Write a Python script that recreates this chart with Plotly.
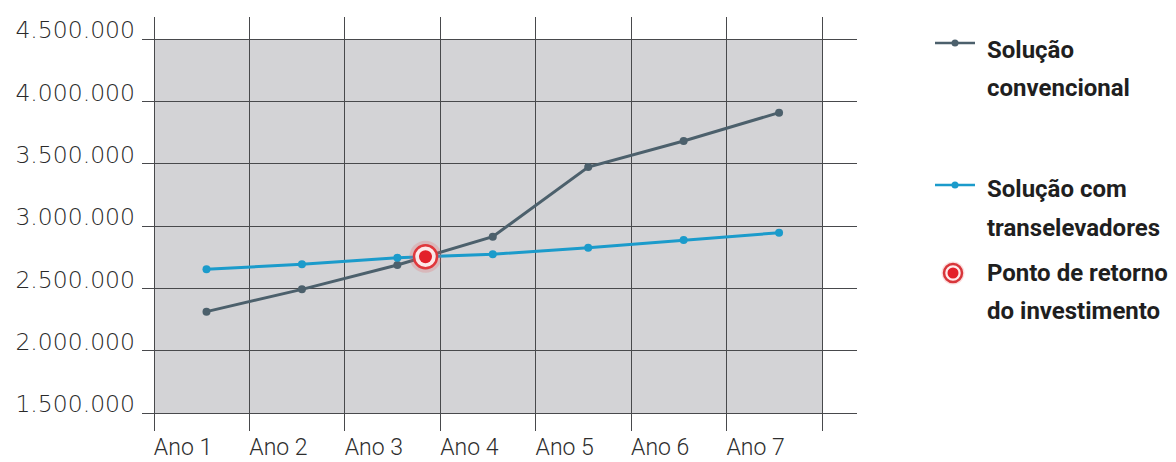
import plotly.graph_objects as go

# Annual cost comparison between the two storage solutions
anos = ["Ano 1", "Ano 2", "Ano 3", "Ano 4", "Ano 5", "Ano 6", "Ano 7"]
convencional = [2313000, 2492000, 2687000, 2914000, 3473000, 3682000, 3909000]
transelevadores = [2653000, 2693000, 2746000, 2773000, 2826000, 2888000, 2946000]
y_ticks = [1500000, 2000000, 2500000, 3000000, 3500000, 4000000, 4500000]
y_tick_labels = ["1.500.000", "2.000.000", "2.500.000", "3.000.000",
                 "3.500.000", "4.000.000", "4.500.000"]
legenda = [["Solução", "convencional"],
           ["Solução com", "transelevadores"],
           ["Ponto de retorno", "do investimento"]]

COR_CONV = "#4c606c"
COR_TRANS = "#1b9bcb"
COR_PONTO = "#e3202a"
COR_GRADE = "#48494c"
COR_FUNDO = "#d3d3d6"

x = list(range(1, len(anos) + 1))

# Break-even: first crossing of the two series, by linear interpolation
ponto_x, ponto_y = None, None
for i in range(len(x) - 1):
    d0 = convencional[i] - transelevadores[i]
    d1 = convencional[i + 1] - transelevadores[i + 1]
    if d0 < 0 <= d1:
        t = -d0 / (d1 - d0)
        ponto_x = x[i] + t
        ponto_y = transelevadores[i] + t * (transelevadores[i + 1] - transelevadores[i])
        break

# Page geometry (pixels)
W, H = 1176, 462
ML, MR, MT, MB = 142, 319, 17, 31
grade_x = [v - 0.55 for v in x] + [x[-1] + 0.45]   # vertical grid between years
px_por_ano = 95.43
px_por_milhao = 124.67
x0_px = 154  # pixel of the first vertical grid line
x_range = [grade_x[0] - (x0_px - ML) / px_por_ano,
           grade_x[0] + (W - MR - x0_px) / px_por_ano]
y_top_px = 39  # pixel of the 4.500.000 line
y_range = [y_ticks[-1] - (H - MB - y_top_px) / px_por_milhao * 1e6,
           y_ticks[-1] + (y_top_px - MT) / px_por_milhao * 1e6]

plot_w = W - ML - MR
plot_h = H - MT - MB


def px(xp):
    return (xp - ML) / plot_w


def py(yp):
    return (H - MB - yp) / plot_h


fig = go.Figure()

fig.add_trace(go.Scatter(
    x=x, y=convencional, mode="lines+markers",
    line=dict(color=COR_CONV, width=3),
    marker=dict(color=COR_CONV, size=8),
    hoverinfo="skip", showlegend=False))

fig.add_trace(go.Scatter(
    x=x, y=transelevadores, mode="lines+markers",
    line=dict(color=COR_TRANS, width=3),
    marker=dict(color=COR_TRANS, size=8),
    hoverinfo="skip", showlegend=False))

# Break-even marker: soft halo, ring, solid centre
fig.add_trace(go.Scatter(
    x=[ponto_x], y=[ponto_y], mode="markers",
    marker=dict(size=32, color="rgba(235,90,90,0.22)", line=dict(width=0)),
    hoverinfo="skip", showlegend=False))
fig.add_trace(go.Scatter(
    x=[ponto_x], y=[ponto_y], mode="markers",
    marker=dict(size=23, color="rgba(255,235,235,0.95)",
                line=dict(color="#e0383c", width=2.5)),
    hoverinfo="skip", showlegend=False))
fig.add_trace(go.Scatter(
    x=[ponto_x], y=[ponto_y], mode="markers",
    marker=dict(size=13, color=COR_PONTO, line=dict(width=0)),
    hoverinfo="skip", showlegend=False))

# Grey plotting field
fig.add_shape(type="rect", xref="x", yref="y",
              x0=grade_x[0], x1=grade_x[-1], y0=y_ticks[0], y1=y_ticks[-1],
              fillcolor=COR_FUNDO, line=dict(width=0), layer="below")

# Legend, drawn by hand
leg_x0, leg_x1, leg_xm, txt_x = 935, 975, 955, 985
linhas_leg = [(43, 50, 88), (185, 189, 228), (273, 273, 311)]
cores_leg = [COR_CONV, COR_TRANS]
for k, (ym, y1, y2) in enumerate(linhas_leg):
    if k < 2:
        fig.add_shape(type="line", xref="paper", yref="paper",
                      x0=px(leg_x0), x1=px(leg_x1), y0=py(ym), y1=py(ym),
                      line=dict(color=cores_leg[k], width=2.5))
        r = 3.5
        fig.add_shape(type="circle", xref="paper", yref="paper",
                      x0=px(leg_xm - r), x1=px(leg_xm + r),
                      y0=py(ym + r), y1=py(ym - r),
                      fillcolor=cores_leg[k], line=dict(width=0))
    else:
        for r, fc, lc, lw in [(11.5, "rgba(235,90,90,0.2)", None, 0),
                              (9, "rgba(255,235,235,1)", "#d8363a", 2.5),
                              (5.5, COR_PONTO, None, 0)]:
            fig.add_shape(type="circle", xref="paper", yref="paper",
                          x0=px(leg_xm - 2 - r), x1=px(leg_xm - 2 + r),
                          y0=py(ym + r), y1=py(ym - r),
                          fillcolor=fc,
                          line=dict(color=lc or fc, width=lw))
    for texto, yc in zip(legenda[k], (y1, y2)):
        fig.add_annotation(xref="paper", yref="paper", x=px(txt_x), y=py(yc),
                           text=texto, showarrow=False,
                           xanchor="left", yanchor="middle",
                           font=dict(family="Roboto", size=24,
                                     color="#1f1f1f", weight="bold"))

fig.update_layout(
    width=W, height=H,
    margin=dict(l=ML, r=MR, t=MT, b=MB, pad=0, autoexpand=False),
    paper_bgcolor="white", plot_bgcolor="white",
    xaxis=dict(range=x_range, tickmode="array", tickvals=grade_x,
               ticktext=anos + [""], showgrid=True, gridcolor=COR_GRADE,
               gridwidth=1.3, zeroline=False, showline=False, ticks="",
               ticklabelshift=29, ticklabelstandoff=0, automargin=False,
               tickfont=dict(family="Roboto", size=23,
                             color="#2e2e2e", weight=300),
               fixedrange=True),
    yaxis=dict(range=y_range, tickmode="array", tickvals=y_ticks,
               ticktext=y_tick_labels, showgrid=True, gridcolor=COR_GRADE,
               gridwidth=1.3, zeroline=False, showline=False, ticks="",
               ticklabelshift=-9, ticklabelstandoff=6, automargin=False,
               tickfont=dict(family="DejaVu Sans", size=23.5,
                             color="#2a2a2a", weight=300),
               fixedrange=True),
    showlegend=False,
)

fig.write_html("out.html", config={"displayModeBar": False})
